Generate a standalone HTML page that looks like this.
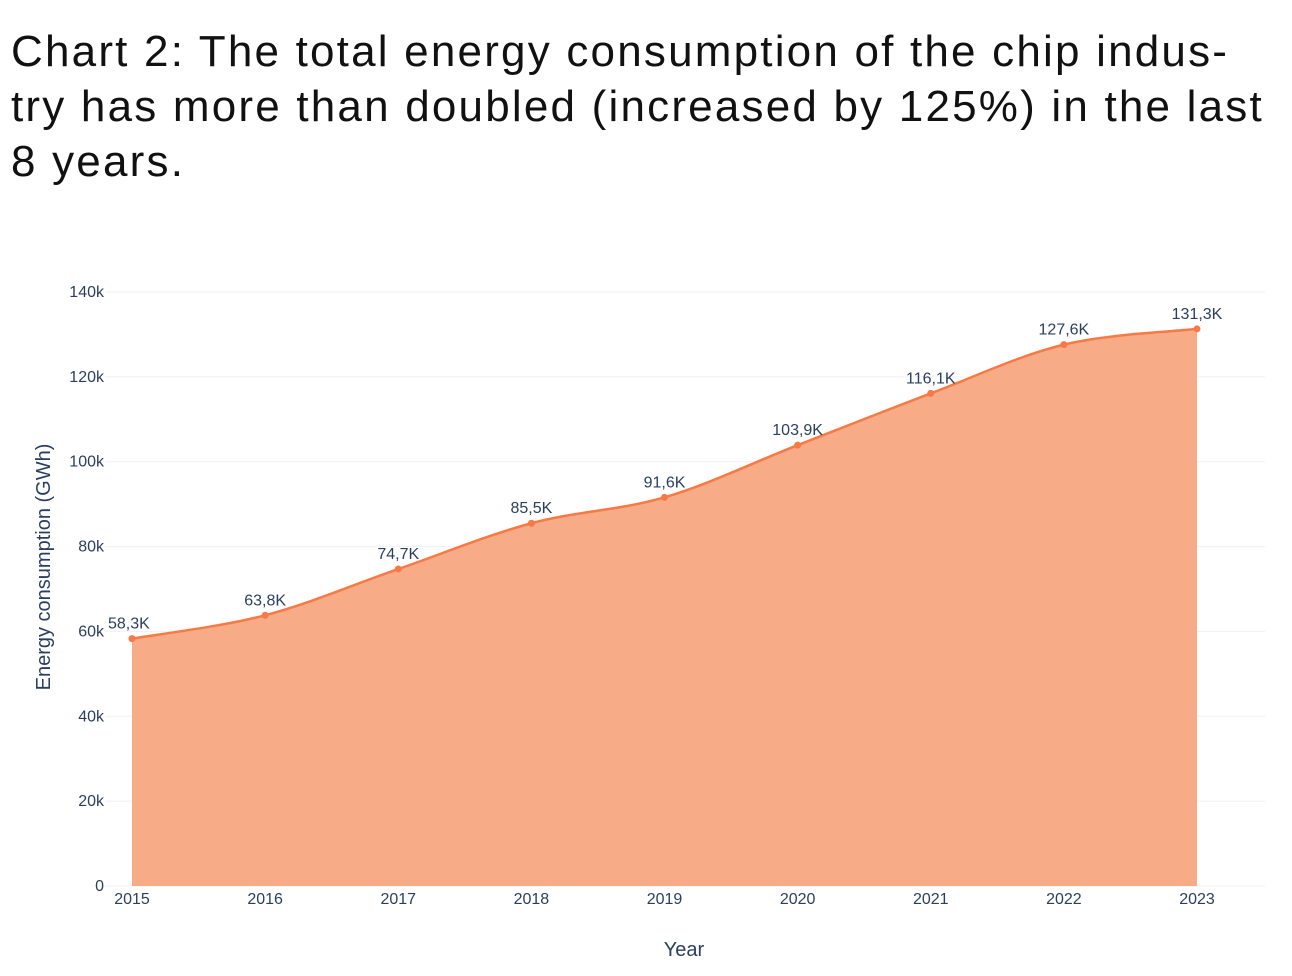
<!DOCTYPE html>
<html><head><meta charset="utf-8"><style>
body{margin:0;background:#fff;width:1292px;height:976px;overflow:hidden;font-family:"Liberation Sans",sans-serif}
#title{position:absolute;left:11px;top:24px;font-size:44px;line-height:55px;color:#111;margin:0;font-weight:normal;width:1290px;letter-spacing:2.2px}
svg{position:absolute;left:0;top:0}
</style></head><body>
<h1 id="title">Chart 2: The total energy consumption of the chip indus-<br>try has more than doubled (increased by 125%) in the last<br>8 years.</h1>
<svg id="c" width="1292" height="976"></svg>
<script>
const years=[2015,2016,2017,2018,2019,2020,2021,2022,2023];
const values=[58300,63800,74700,85500,91600,103900,116100,127600,131300];
const labels=["58,3K","63,8K","74,7K","85,5K","91,6K","103,9K","116,1K","127,6K","131,3K"];
const yTicks=[0,20000,40000,60000,80000,100000,120000,140000];
const yTickLabels=["0","20k","40k","60k","80k","100k","120k","140k"];
const NS="http://www.w3.org/2000/svg";
const svg=document.getElementById('c');
const X=v=>132+(v-2015)*(1197-132)/8;
const Y=v=>886-v*(886-292)/140000;
function el(t,a,txt){const e=document.createElementNS(NS,t);for(const k in a)e.setAttribute(k,a[k]);if(txt!==undefined)e.textContent=txt;svg.appendChild(e);return e;}
yTicks.forEach((t,i)=>{
 const g=el('line',{x1:105,x2:1265,y1:Y(t),y2:Y(t),stroke:'#eef0f4','stroke-width':1});
 
 
 const tx=el('text',{x:104,y:Y(t)+5,'text-anchor':'end','font-size':16,fill:'#2a3f5f'},yTickLabels[i]);
 
 
});
const pts=years.map((y,i)=>[X(y),Y(values[i])]);
let d=`M${pts[0][0]},${pts[0][1]}`;
for(let i=0;i<pts.length-1;i++){
 const p0=pts[Math.max(0,i-1)],p1=pts[i],p2=pts[i+1],p3=pts[Math.min(pts.length-1,i+2)];
 const s=1/6;
 d+=` C${p1[0]+(p2[0]-p0[0])*s},${p1[1]+(p2[1]-p0[1])*s} ${p2[0]-(p3[0]-p1[0])*s},${p2[1]-(p3[1]-p1[1])*s} ${p2[0]},${p2[1]}`;
}
const area=el('path',{d:d+` L${X(2023)},${Y(0)} L${X(2015)},${Y(0)} Z`,fill:'#f8ab87'});


const line=el('path',{d:d,fill:'none',stroke:'#f77a45','stroke-width':2.5});


pts.forEach((p,i)=>{
 const c=el('circle',{cx:p[0],cy:p[1],r:3.5,fill:'#f77a45'});
 
 
 const t=el('text',{x:p[0],y:p[1]-10,'text-anchor':i==0?'start':'middle','font-size':16,fill:'#2a3f5f'},labels[i]);
 if(i==0)t.setAttribute('x',p[0]-24);
 
 
 const xt=el('text',{x:p[0],y:904,'text-anchor':'middle','font-size':16,fill:'#2a3f5f'},String(years[i]));
 
 
});
const xa=el('text',{x:684,y:956,'text-anchor':'middle','font-size':20,fill:'#2a3f5f'},'Year');


const ya=el('text',{x:0,y:0,'text-anchor':'middle','font-size':20,fill:'#2a3f5f',transform:'translate(50,567) rotate(-90)'},'Energy consumption (GWh)');


</script>
</body></html>
